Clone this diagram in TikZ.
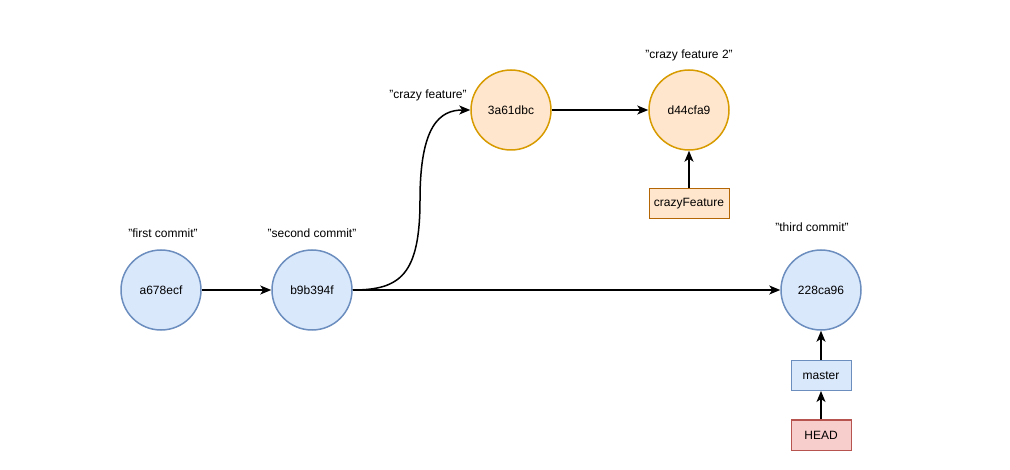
\documentclass[tikz,border=0pt]{standalone}
\usepackage{fontspec}
\setmainfont{Liberation Sans}
\usetikzlibrary{arrows.meta}
\definecolor{bfill}{HTML}{DAE8FC}
\definecolor{bline}{HTML}{6C8EBF}
\definecolor{ofill}{HTML}{FFE6CC}
\definecolor{oline}{HTML}{D79B00}
\definecolor{oboxline}{HTML}{B46504}
\definecolor{rfill}{HTML}{F8CECC}
\definecolor{rline}{HTML}{B85450}
\begin{document}
\begin{tikzpicture}[x=1pt,y=-1pt,
  font=\fontsize{12}{14}\selectfont,
  commitb/.style={circle,draw=bline,fill=bfill,line width=1.5pt,minimum size=80pt,inner sep=0pt},
  commito/.style={circle,draw=oline,fill=ofill,line width=1.5pt,minimum size=80pt,inner sep=0pt},
  refb/.style={rectangle,draw=bline,fill=bfill,line width=1pt,minimum width=60pt,minimum height=30pt,inner sep=0pt},
  refo/.style={rectangle,draw=oboxline,fill=ofill,line width=1pt,minimum width=80pt,minimum height=30pt,inner sep=0pt},
  refr/.style={rectangle,draw=rline,fill=rfill,line width=1pt,minimum width=60pt,minimum height=30pt,inner sep=0pt},
  lbl/.style={inner sep=0pt},
  conn/.style={line width=1.5pt,-{Stealth[length=11pt,width=9pt,inset=3pt]}}]
\useasboundingbox (0,0) rectangle (1010,470);
\node[commitb] (a) at (161,290) {a678ecf};
\node[commitb] (b) at (312,290) {b9b394f};
\node[commito] (c) at (511,110) {3a61dbc};
\node[commito] (d) at (689,110) {d44cfa9};
\node[commitb] (t) at (821,290) {228ca96};
\node[refo] (cf) at (689,204) {crazyFeature};
\node[refb] (m) at (821,375.5) {master};
\node[refr] (h) at (821,435) {HEAD};
\node[lbl] (la) at (163,233) {"first commit"};
\node[lbl] (lb) at (312,233) {"second commit"};
\node[lbl] (lc) at (428,95) {"crazy feature"};
\node[lbl] (ld) at (689,55) {"crazy feature 2"};
\node[lbl] (lt) at (812,227) {"third commit"};
\draw[conn] (a) -- (b);
\draw[conn] (b) -- (t);
\draw[conn] (b.east) .. controls (400,290) and (420,275) .. (420,200) .. controls (420,125) and (440,110) .. (c.west);
\draw[conn] (c) -- (d);
\draw[conn] (cf) -- (d);
\draw[conn] (m) -- (t);
\draw[conn] (h) -- (m);
\end{tikzpicture}
\end{document}
